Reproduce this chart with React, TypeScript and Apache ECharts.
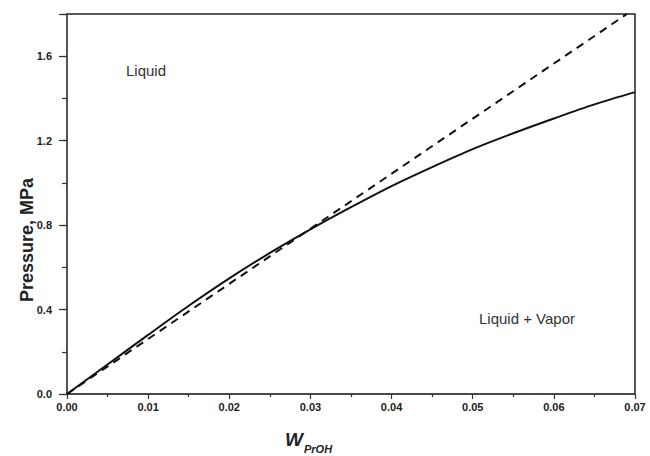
import React, { useEffect, useRef } from 'react';
import * as echarts from 'echarts';

// Solid curve (bubble-pressure line)
const solidX = [0, 0.005, 0.01, 0.015, 0.02, 0.025, 0.03, 0.035, 0.04, 0.045, 0.05, 0.055, 0.06, 0.065, 0.07];
const solidP = [0, 0.14, 0.28, 0.418, 0.548, 0.668, 0.78, 0.885, 0.985, 1.075, 1.16, 1.235, 1.305, 1.372, 1.43];
// Dashed straight line
const dashX = [0, 0.069];
const dashP = [0, 1.8];

const xTickLabelDigits = 2;
const yTickLabelDigits = 1;

const FONT = "'Liberation Sans', Arial, Helvetica, sans-serif";

export default function App() {
  const ref = useRef<HTMLDivElement>(null);
  useEffect(() => {
    if (!ref.current) return;
    const chart = echarts.init(ref.current, undefined, { renderer: 'svg' });
    const tickLabel = {
      fontFamily: FONT,
      fontWeight: 'bold' as const,
      fontSize: 11,
      color: '#222',
    };
    chart.setOption({
      animation: false,
      backgroundColor: '#fff',
      grid: {
        left: 67,
        top: 14,
        width: 568,
        height: 380,
        show: true,
        borderColor: '#222',
        borderWidth: 1.5,
        backgroundColor: 'transparent',
      },
      xAxis: {
        type: 'value',
        min: 0,
        max: 0.07,
        interval: 0.01,
        axisLine: { show: true, lineStyle: { color: '#444', width: 1.5 } },
        axisTick: { show: true, length: 5, lineStyle: { color: '#333', width: 1.2 } },
        minorTick: { show: true, splitNumber: 2, length: 3, lineStyle: { color: '#333', width: 1.2 } },
        axisLabel: {
          ...tickLabel,
          margin: 7,
          formatter: (v: number) => v.toFixed(xTickLabelDigits),
        },
        splitLine: { show: false },
        minorSplitLine: { show: false },
      },
      yAxis: [
        {
          type: 'value',
          min: 0,
          max: 1.8,
          interval: 0.2,
          axisLine: { show: true, lineStyle: { color: '#555', width: 1.5 } },
          axisTick: { show: true, length: 5, lineStyle: { color: '#333', width: 1.2 } },
          axisLabel: {
            ...tickLabel,
            margin: 15,
            formatter: (v: number) => (Math.round(v * 10) % 4 === 0 ? v.toFixed(yTickLabelDigits) : ''),
          },
          splitLine: { show: false },
        },
        {
          type: 'value',
          min: 0,
          max: 1.8,
          interval: 0.4,
          position: 'left',
          axisLine: { show: false },
          axisTick: { show: true, length: 8, lineStyle: { color: '#333', width: 1.2 } },
          axisLabel: { show: false },
          splitLine: { show: false },
        },
      ],
      series: [
        {
          type: 'line',
          yAxisIndex: 0,
          data: solidX.map((x, i) => [x, solidP[i]]),
          showSymbol: false,
          smooth: 0.3,
          lineStyle: { color: '#111', width: 2 },
          clip: true,
        },
        {
          type: 'line',
          yAxisIndex: 0,
          data: dashX.map((x, i) => [x, dashP[i]]),
          showSymbol: false,
          lineStyle: { color: '#111', width: 2, type: [8, 6] },
          clip: true,
        },
      ],
      graphic: [
        {
          type: 'text',
          x: 146,
          y: 70,
          style: {
            text: 'Liquid',
            fontFamily: FONT,
            fontSize: 15,
            fill: '#333',
            align: 'center',
            verticalAlign: 'middle',
            textAlign: 'center',
            textVerticalAlign: 'middle',
          },
        },
        {
          type: 'text',
          x: 527,
          y: 318,
          style: {
            text: 'Liquid + Vapor',
            fontFamily: FONT,
            fontSize: 15,
            fill: '#333',
            align: 'center',
            verticalAlign: 'middle',
            textAlign: 'center',
            textVerticalAlign: 'middle',
          },
        },
        {
          type: 'text',
          x: 27,
          y: 240,
          rotation: Math.PI / 2,
          style: {
            text: 'Pressure, MPa',
            fontFamily: FONT,
            fontSize: 18,
            fontWeight: 'bold',
            fill: '#222',
            align: 'center',
            verticalAlign: 'middle',
            textAlign: 'center',
            textVerticalAlign: 'middle',
          },
        },
        {
          type: 'text',
          x: 303,
          y: 439,
          style: {
            text: 'W',
            fontFamily: FONT,
            fontSize: 19,
            fontWeight: 'bold',
            fontStyle: 'italic',
            fill: '#222',
            align: 'right',
            verticalAlign: 'middle',
            textAlign: 'right',
            textVerticalAlign: 'middle',
          },
        },
        {
          type: 'text',
          x: 304,
          y: 449,
          style: {
            text: 'PrOH',
            fontFamily: FONT,
            fontSize: 11,
            fontWeight: 'bold',
            fontStyle: 'italic',
            fill: '#222',
            align: 'left',
            verticalAlign: 'middle',
            textAlign: 'left',
            textVerticalAlign: 'middle',
          },
        },
      ],
    });
    return () => chart.dispose();
  }, []);
  return (
    <div
      ref={ref}
      style={{ position: 'fixed', left: 0, top: 0, width: 650, height: 456, background: '#fff' }}
    />
  );
}
